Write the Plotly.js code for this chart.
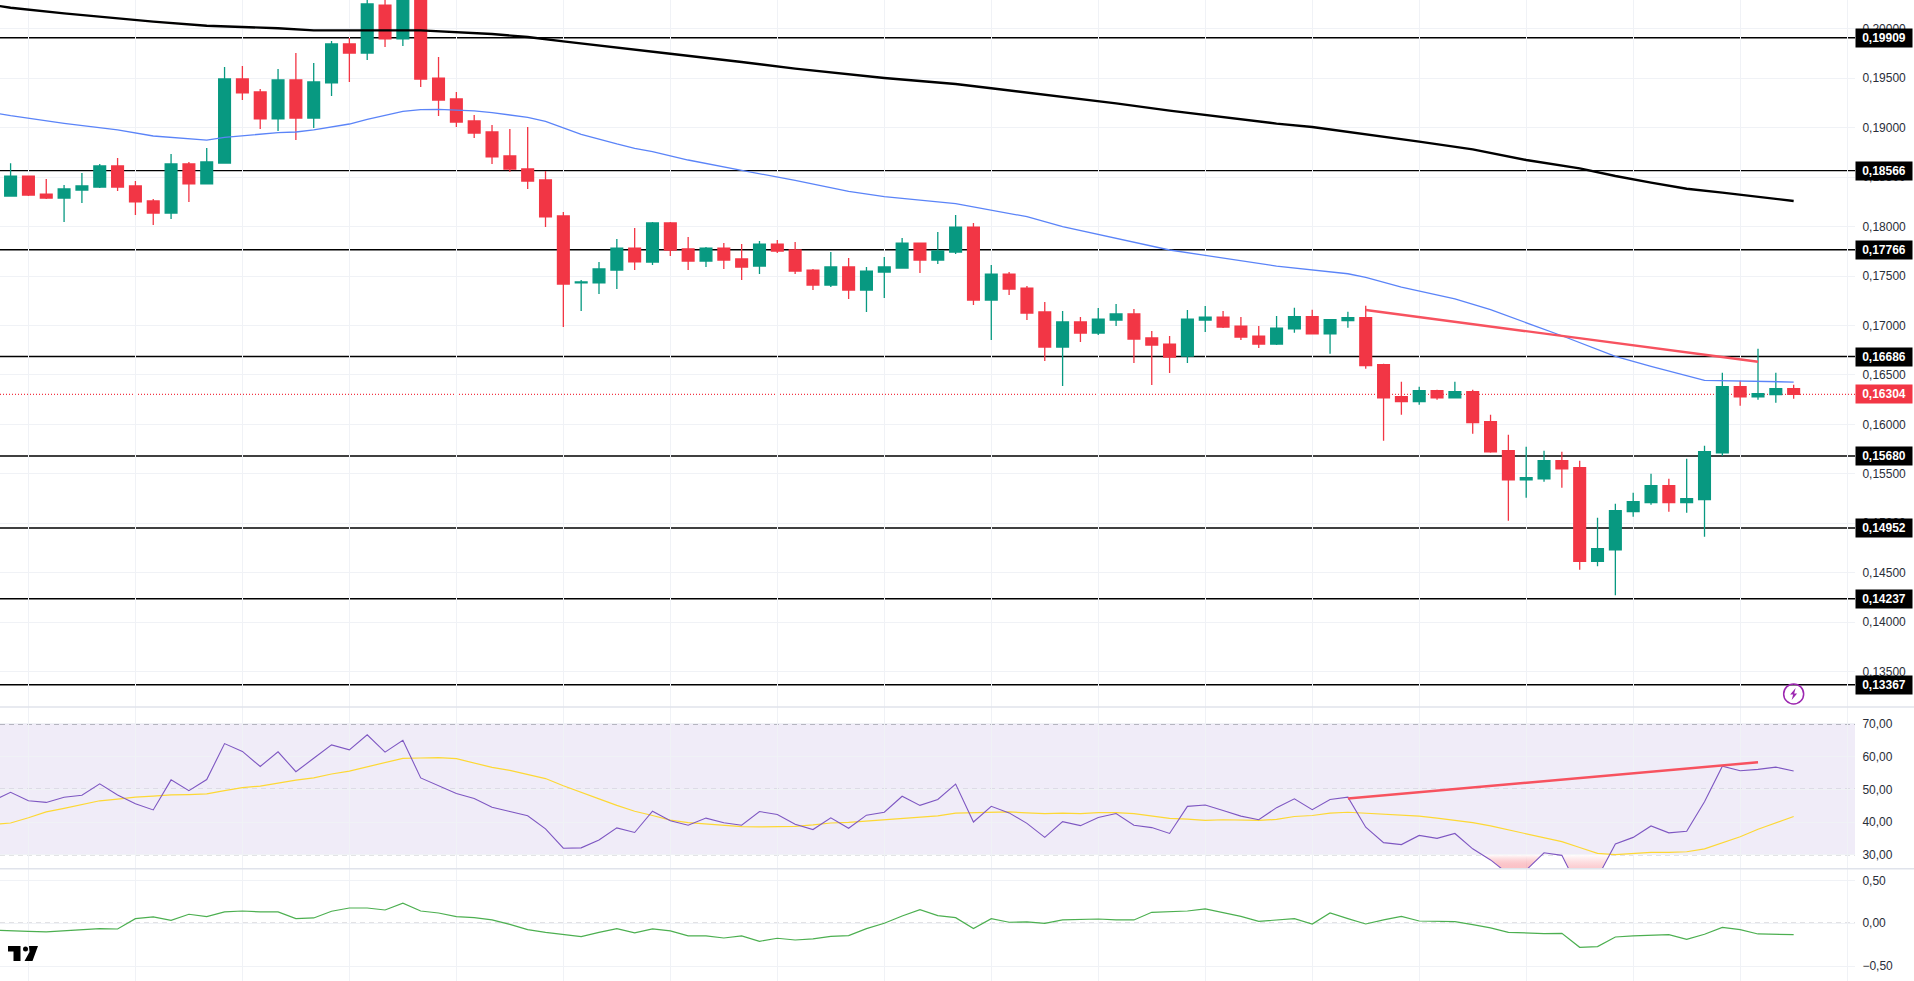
<!DOCTYPE html>
<html><head><meta charset="utf-8">
<script src="https://cdn.plot.ly/plotly-3.0.1.min.js"></script>
<style>html,body{margin:0;padding:0;background:#fff;overflow:hidden}#c{width:1914px;height:981px}</style>
</head><body><div id="c"></div>
<script>
const opens=[.18309,.18511,.18329,.18289,.18370,.18400,.18613,.18410,.18259,.18137,.18633,.18431,.18643,.19492,.19361,.19088,.19482,.19098,.19452,.19846,.19755,.20240,.19897,.20400,.19502,.19290,.19068,.18956,.18714,.18582,.18471,.18107,.17430,.17430,.17561,.17783,
.17641,.18036,.17773,.17651,.17783,.17672,.17601,.17823,.17763,.17560,.17409,.17591,.17358,.17540,.17581,.17833,.17662,.17742,.17995,.17257,.17520,.17378,.17136,.16782,.17035,.16923,.17055,.17116,.16873,.16812,.16691,.17055,.17085,.16994,.16893,.16812,
.16967,.17088,.16916,.17048,.17078,.16603,.16279,.16229,.16340,.16269,.16330,.16027,.15733,.15440,.15450,.15632,.15562,.14614,.14732,.15117,.15208,.15380,.15208,.15238,.15713,.16381,.16279,.16300,.16360];
const highs=[.18640,.18515,.18481,.18420,.18542,.18633,.18693,.18461,.18279,.18734,.18653,.18795,.19614,.19624,.19391,.19593,.19755,.19654,.19876,.19907,.20350,.20350,.20500,.20450,.19715,.19361,.19128,.19027,.18987,.19007,.18562,.18147,.17460,.17642,.17874,.17986,
.18046,.18046,.17894,.17793,.17833,.17823,.17854,.17864,.17844,.17571,.17742,.17682,.17591,.17692,.17884,.17840,.17945,.18117,.18036,.17611,.17540,.17399,.17237,.17146,.17085,.17176,.17217,.17166,.16944,.16893,.17156,.17196,.17146,.17085,.16994,.17095,
.17179,.17159,.17058,.17139,.17200,.16613,.16431,.16381,.16350,.16431,.16350,.16097,.15895,.15774,.15733,.15723,.15632,.15056,.15198,.15309,.15501,.15450,.15653,.15784,.16522,.16441,.16765,.16522,.16401];
const lows=[.18309,.18309,.18279,.18046,.18238,.18390,.18360,.18117,.18016,.18077,.18249,.18431,.18643,.19280,.18987,.18966,.18875,.18997,.19320,.19462,.19684,.19816,.19826,.19411,.19118,.19007,.18896,.18633,.18552,.18380,.17996,.16985,.17146,.17318,.17369,.17561,
.17611,.17702,.17560,.17591,.17571,.17459,.17520,.17732,.17520,.17358,.17389,.17267,.17136,.17277,.17581,.17530,.17621,.17722,.17207,.16853,.17308,.17055,.16640,.16388,.16832,.16903,.16994,.16620,.16398,.16519,.16620,.16934,.16975,.16853,.16772,.16802,
.16927,.16910,.16714,.16977,.16563,.15835,.16097,.16199,.16249,.16265,.15905,.15713,.15026,.15258,.15420,.15359,.14530,.14564,.14271,.15066,.15187,.15117,.15107,.14864,.15683,.16188,.16249,.16219,.16259];
const closes=[.18511,.18319,.18289,.18380,.18410,.18613,.18400,.18249,.18137,.18633,.18431,.18653,.19492,.19351,.19088,.19482,.19098,.19462,.19846,.19755,.20251,.19897,.20400,.19492,.19280,.19057,.18946,.18704,.18582,.18461,.18097,.17419,.17440,.17571,.17783,.17642,
.18036,.17763,.17651,.17783,.17662,.17591,.17823,.17753,.17550,.17409,.17591,.17358,.17550,.17591,.17833,.17662,.17753,.17995,.17257,.17520,.17368,.17126,.16782,.17035,.16923,.17065,.17116,.16863,.16802,.16681,.17065,.17085,.16984,.16883,.16812,.16974,
.17088,.16916,.17058,.17078,.16593,.16269,.16229,.16340,.16269,.16330,.16017,.15723,.15440,.15460,.15632,.15551,.14614,.14743,.15127,.15218,.15380,.15208,.15248,.15723,.16381,.16279,.16310,.16360,.16304];

const ma50X=[-1,0,3,6,8,11,12,15,16,17,19,20,22,23,24,26,27,29,30,32,34,35,36,38,41,44,47,49,53,55,57,59,62,65,67,71,75,76,78,81,83,85,87,90,92,95,100];
const ma50=[.19152,.19121,.19044,.18977,.18916,.18875,.18902,.18950,.18956,.18977,.19037,.19084,.19165,.19182,.19186,.19169,.19152,.19105,.19064,.18933,.18835,.18791,.18757,.18673,.18568,.18467,.18356,.18302,.18231,.18167,.18100,.17999,.17881,.17763,.17709,.17601,.17523,.17486,.17388,.17270,.17159,.17031,.16896,.16687,.16586,.16445,.16428];
const ma200X=[-1,0,3,8,11,15,17,23,27,29,31,35,36,37,41,44,49,53,55,59,62,65,67,70,71,73,76,79,82,85,88,90,92,94,96,98,100];
const ma200=[.20240,.20213,.20156,.20072,.20031,.20005,.19984,.19984,.19947,.19917,.19873,.19785,.19769,.19748,.19664,.19597,.19502,.19442,.19398,.19314,.19246,.19172,.19128,.19061,.19041,.19007,.18936,.18859,.18781,.18673,.18589,.18511,.18444,.18383,.18343,.18299,.18259];

const rsi=[46.5,49.1,46.5,46.0,47.6,48.2,51.7,48.3,45.6,43.7,52.9,49.6,53.0,64.0,61.6,57.0,61.5,55.4,59.5,63.6,62.1,66.7,61.4,65.0,53.5,51.1,48.7,47.2,44.5,43.2,41.9,37.9,32.0,32.1,34.5,38.2,36.8,
43.3,40.4,39.0,41.2,39.8,39.0,43.2,42.3,39.3,37.7,41.3,38.1,42.1,43.0,47.9,45.1,46.9,51.6,40.0,44.8,42.8,39.6,35.3,40.1,38.9,41.4,42.6,39.0,38.3,36.5,44.8,45.2,43.5,41.8,40.7,44.4,
47.1,43.8,46.9,47.6,38.4,33.7,33.1,35.9,35.0,36.5,31.8,28.4,24.1,25.3,30.6,29.8,19.0,23.0,33.3,35.3,38.8,36.7,37.2,46.2,57.1,55.7,56.1,56.8,55.6];
const rsiMa=[39.3,39.7,41.3,43.1,44.2,45.4,46.5,47.0,47.6,47.9,48.3,48.4,48.6,49.6,50.5,51.0,52.0,52.8,53.5,54.7,55.6,56.9,58.1,59.5,59.6,59.7,59.4,58.0,56.7,55.8,54.5,53.3,51.1,49.2,47.1,45.1,43.3,
42.0,40.6,39.8,39.4,39.0,38.6,38.5,38.5,38.7,39.1,39.7,39.9,40.3,40.7,41.0,41.4,41.9,42.7,42.8,43.1,43.1,42.8,42.6,42.7,42.6,42.9,42.9,42.6,41.8,41.1,40.9,40.5,40.7,40.7,40.5,40.8,
41.7,42.0,42.7,43.0,42.7,42.3,41.9,41.8,41.2,40.6,39.8,38.8,37.6,36.2,35.0,34.0,32.2,30.4,30.0,30.3,30.7,30.7,30.9,31.8,33.6,35.5,37.8,39.8,41.7];
const osc=[-.079,-.089,-.093,-.10,-.085,-.07,-.062,-.066,.054,.074,.035,.105,.078,.132,.143,.132,.132,.054,.062,.14,.178,.178,.155,.233,.143,.12,.078,.066,.039,-.012,-.074,-.105,-.132,-.155,-.105,-.062,-.112,
-.066,-.089,-.147,-.147,-.171,-.147,-.209,-.174,-.194,-.182,-.151,-.143,-.062,0,.085,.159,.089,.066,-.062,.054,.012,.016,0,.039,.043,.05,.039,.039,.128,.132,.143,.167,.12,.081,.023,.035,
.054,-.008,.12,.054,-.008,.039,.081,.027,.027,.019,-.016,-.054,-.105,-.116,-.12,-.116,-.279,-.271,-.159,-.147,-.143,-.132,-.186,-.128,-.047,-.074,-.124,-.132,-.132];

const trendPriceX=[76,98], trendPrice=[.17156,.16633];
const trendRsiX=[75,98], trendRsi=[47.2,58.3];
const oversoldAX=[82.47,83,84,85,85.87], oversoldA=[30,28.4,24.1,25.3,30];
const oversoldBX=[86.8,87,88,89,89.68], oversoldB=[30,29.8,19.0,23.0,30];

const levels=[.19909,.18566,.17766,.16686,.15680,.14952,.14237,.13367];
const lastPrice=.16304;
const priceTicks=[.135,.14,.145,.15,.155,.16,.165,.17,.175,.18,.185,.19,.195,.20];
const rsiTicks=[30,40,50,60,70];
const rsiLevels=[70,50,30];
const oscTicks=[-.5,0,.5];
const gridDays=[1,7,13,19,25,31,37,43,49,55,61,67,73,79,85,91,97,103];

const days=opens.map((_,i)=>i);
const lineDays=[-1].concat(days);

const GREEN='#089981',RED='#F23645',GRID='#F0F2F6',TXT='#2A2E39',TREND='#F7525F';
const fmt=v=>v.toFixed(5).replace('.',',');

const line=(x,y,yaxis,color,width)=>({type:'scatter',mode:'lines',x,y,yaxis,hoverinfo:'skip',showlegend:false,line:{color,width,shape:'linear'}});
const gradFill=(x,y)=>({type:'scatter',mode:'lines',x:x.concat(x[0]),y:y.concat(y[0]),yaxis:'y2',fill:'toself',hoverinfo:'skip',showlegend:false,line:{width:0,color:'rgba(0,0,0,0)'},
  fillgradient:{type:'vertical',colorscale:[[0,'rgba(242,54,69,0.2)'],[1,'rgba(255,255,255,0.95)']]}});

const data=[
  line(ma200X,ma200,'y','#000000',2.4),
  line(ma50X,ma50,'y','#5B84F8',1.3),
  {type:'candlestick',x:days,open:opens,high:highs,low:lows,close:closes,yaxis:'y',hoverinfo:'skip',showlegend:false,whiskerwidth:0,
    increasing:{line:{color:GREEN,width:1.3},fillcolor:GREEN},decreasing:{line:{color:RED,width:1.3},fillcolor:RED}},
  line(trendPriceX,trendPrice,'y',TREND,2.4),
  gradFill(oversoldAX,oversoldA),gradFill(oversoldBX,oversoldB),
  line(lineDays,rsiMa,'y2','#FDD835',1.2),
  line(lineDays,rsi,'y2','#7E57C2',1.1),
  line(trendRsiX,trendRsi,'y2',TREND,2.4),
  line(lineDays,osc,'y3','#4CAF50',1.2)
];

const shapes=[];
levels.forEach(v=>shapes.push({type:'line',layer:'below',xref:'paper',x0:0,x1:1,yref:'y',y0:v,y1:v,line:{color:'#000',width:1.4}}));
shapes.push({type:'line',layer:'below',xref:'paper',x0:0,x1:1,yref:'y',y0:lastPrice,y1:lastPrice,line:{color:RED,width:1.2,dash:'1px,2px'}});
shapes.push({type:'rect',layer:'below',xref:'paper',x0:0,x1:1,yref:'y2',y0:30,y1:70,fillcolor:'rgba(126,87,194,0.115)',line:{width:0}});
rsiLevels.forEach(v=>shapes.push({type:'line',layer:'below',xref:'paper',x0:0,x1:1,yref:'y2',y0:v,y1:v,line:{color:'#787B86',width:1,dash:'5px,4px'}}));
shapes.push({type:'line',layer:'below',xref:'paper',x0:0,x1:1,yref:'y3',y0:0,y1:0,line:{color:'#787B86',width:1,dash:'5px,4px'}});
// pane separators
[0.27931,0.11448].forEach(d=>shapes.push({type:'line',xref:'paper',x0:0,x1:1.0318,yref:'paper',y0:d,y1:d,line:{color:'#E0E3EB',width:1.5}}));
// lightning badge
const iconY=0.13274;
shapes.push({type:'circle',xref:'x',yref:'y',xsizemode:'pixel',ysizemode:'pixel',xanchor:100,yanchor:iconY,x0:-10,x1:10,y0:-10,y1:10,line:{color:'#9C27B0',width:1.5},fillcolor:'rgba(255,255,255,0)'});
shapes.push({type:'path',xref:'x',yref:'y',xsizemode:'pixel',ysizemode:'pixel',xanchor:100,yanchor:iconY,path:'M 2,6 L -3.5,-0.5 L -0.5,-0.5 L -2,-6 L 3.5,0.5 L 0.5,0.5 Z',fillcolor:'#9C27B0',line:{width:0}});
// TradingView mark
const logo={xref:'paper',yref:'paper',xsizemode:'pixel',ysizemode:'pixel',xanchor:0,yanchor:0,fillcolor:'#000',line:{width:0}};
shapes.push(Object.assign({type:'path',path:'M 8,35 L 20.5,35 L 20.5,20 L 13.5,20 L 13.5,29.5 L 8,29.5 Z'},logo));
shapes.push(Object.assign({type:'circle',x0:23,x1:28,y0:29.5,y1:34.5},logo));
shapes.push(Object.assign({type:'path',path:'M 29,35 L 38,35 L 32.5,20 L 24.5,20 L 29.5,29 Z'},logo));

const labelFont={family:'Liberation Sans, Arial, sans-serif',size:12,color:'#fff',weight:'bold'};
const annotations=levels.map(v=>({xref:'paper',x:1,xanchor:'left',yref:'y',y:v,yanchor:'middle',text:fmt(v),showarrow:false,bgcolor:'#000',width:56,height:18,align:'center',borderpad:0,font:labelFont}));
annotations.push({xref:'paper',x:1,xanchor:'left',yref:'y',y:lastPrice,yanchor:'middle',text:fmt(lastPrice),showarrow:false,bgcolor:RED,width:56,height:18,align:'center',borderpad:0,font:labelFont});

const yCommon={side:'right',anchor:'x',zeroline:false,showline:false,gridcolor:GRID,gridwidth:1,tickmode:'array',ticks:'outside',ticklen:4,tickcolor:'rgba(0,0,0,0)',tickfont:{family:'Liberation Sans, Arial, sans-serif',size:12,color:TXT},fixedrange:true};

const layout={
  width:1914,height:981,margin:{l:0,r:59,t:0,b:0,pad:0},paper_bgcolor:'#fff',plot_bgcolor:'#fff',showlegend:false,separators:',.',boxgap:0.34,boxgroupgap:0,hovermode:false,
  xaxis:{range:[-0.594,103.44],anchor:'y3',zeroline:false,showline:false,showticklabels:false,ticks:'',tickmode:'array',tickvals:gridDays,gridcolor:GRID,gridwidth:1,rangeslider:{visible:false},fixedrange:true},
  yaxis:Object.assign({},yCommon,{domain:[0.27931,1],range:[.13142,.20291],tickvals:priceTicks,tickformat:'.5f'}),
  yaxis2:Object.assign({},yCommon,{domain:[0.11448,0.27931],range:[25.72,75.2],tickvals:rsiTicks,tickformat:'.2f'}),
  yaxis3:Object.assign({},yCommon,{domain:[0,0.11448],range:[-.671,.635],tickvals:oscTicks,tickformat:'.2f'}),
  shapes,annotations
};
Plotly.newPlot('c',data,layout,{displayModeBar:false,staticPlot:true});
</script></body></html>
